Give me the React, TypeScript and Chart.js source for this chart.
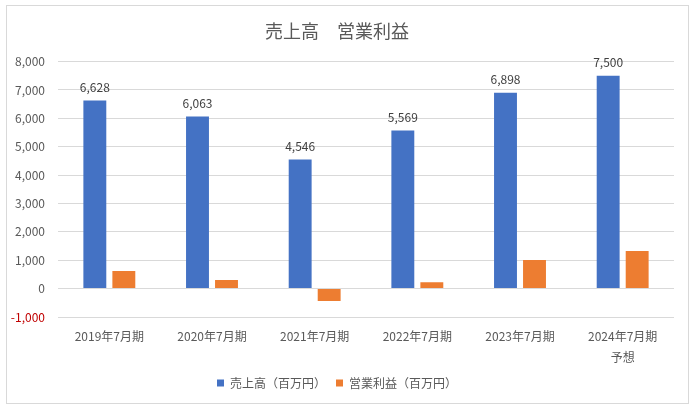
import React, { useEffect, useRef } from "react";
import { Chart, registerables } from "chart.js";

Chart.register(...registerables);

const categories: (string | string[])[] = [
  "2019年7月期",
  "2020年7月期",
  "2021年7月期",
  "2022年7月期",
  "2023年7月期",
  ["2024年7月期", "予想"],
];
const salesLabel = "売上高（百万円）";
const profitLabel = "営業利益（百万円）";
const sales = [6628, 6063, 4546, 5569, 6898, 7500];
const profit = [620, 300, -440, 225, 1010, 1330];
const titleText = "売上高　営業利益";
const yMin = -1000;
const yMax = 8000;
const yStep = 1000;

const FONT = "'Noto Sans CJK JP', 'Noto Sans', sans-serif";
const GRAY = "#595959";

const frame = {
  id: "frame",
  beforeDraw(chart: any) {
    const ctx = chart.ctx;
    ctx.save();
    ctx.fillStyle = "#ffffff";
    ctx.fillRect(0, 0, chart.width, chart.height);
    ctx.strokeStyle = "#d9d9d9";
    ctx.lineWidth = 1;
    ctx.strokeRect(6.5, 5.5, 682, 398);
    ctx.restore();
  },
};

const valueLabels = {
  id: "valueLabels",
  afterDatasetsDraw(chart: any) {
    const ctx = chart.ctx;
    const meta = chart.getDatasetMeta(0);
    ctx.save();
    ctx.font = `12px ${FONT}`;
    ctx.fillStyle = "#404040";
    ctx.textAlign = "center";
    ctx.textBaseline = "middle";
    meta.data.forEach((el: any, i: number) => {
      const v = chart.data.datasets[0].data[i] as number;
      ctx.fillText(v.toLocaleString("en-US"), el.x, el.y - 13);
    });
    ctx.restore();
  },
};

export default function App() {
  const ref = useRef<HTMLCanvasElement>(null);
  useEffect(() => {
    if (!ref.current) return;
    const chart = new Chart(ref.current, {
      type: "bar",
      data: {
        labels: categories,
        datasets: [
          {
            label: salesLabel,
            data: sales,
            backgroundColor: "#4472C4",
            categoryPercentage: 0.565,
            barPercentage: 0.79,
          },
          {
            label: profitLabel,
            data: profit,
            backgroundColor: "#ED7D31",
            categoryPercentage: 0.565,
            barPercentage: 0.79,
          },
        ],
      },
      options: {
        responsive: false,
        animation: false,
        layout: { padding: { left: 0, right: 25, top: 0, bottom: 11 } },
        plugins: {
          title: {
            display: true,
            text: titleText,
            color: GRAY,
            font: { family: FONT, size: 18, weight: "normal" },
            padding: { top: 20, bottom: 20 },
          },
          legend: {
            position: "bottom",
            labels: {
              color: GRAY,
              font: { family: FONT, size: 12 },
              boxWidth: 7,
              boxHeight: 7,
              padding: 10,
            },
          },
          tooltip: { enabled: false },
        },
        scales: {
          x: {
            grid: { display: false },
            border: { display: false },
            ticks: {
              color: GRAY,
              font: { family: FONT, size: 12, lineHeight: 1.75 },
              padding: 1,
              maxRotation: 0,
              autoSkip: false,
            },
            afterFit(scale: any) {
              scale.height = 50;
            },
          },
          y: {
            min: yMin,
            max: yMax,
            grid: { color: "#d9d9d9", drawTicks: false },
            border: { display: false },
            ticks: {
              stepSize: yStep,
              padding: 13,
              font: { family: FONT, size: 12 },
              color: (c: any) => (c.tick && c.tick.value < 0 ? "#C00000" : GRAY),
              callback: (v: any) => Number(v).toLocaleString("en-US"),
            },
            afterFit(scale: any) {
              scale.width = 58;
            },
          },
        },
      },
      plugins: [frame, valueLabels],
    });
    return () => chart.destroy();
  }, []);
  return (
    <div style={{ position: "absolute", left: 0, top: 0, width: 699, height: 410 }}>
      <canvas ref={ref} width={699} height={410} />
    </div>
  );
}
